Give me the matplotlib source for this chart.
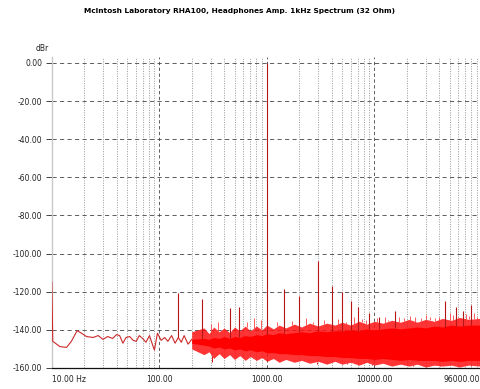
import numpy as np
import matplotlib.pyplot as plt
from matplotlib.ticker import FixedLocator, NullFormatter

# traza de baja frecuencia (Hz, dBr)
low_f = [10.0, 10.2, 11.9, 13.7, 15.2, 17.2, 18.9, 21.0, 24.2, 27.0, 29.9, 33.0, 36.8,
         40.0, 42.7, 45.8, 49.0, 53.0, 57.0, 61.0, 65.0, 69.9, 75.0, 81.0, 86.0, 90.0,
         96.0, 104.0, 112.0, 120.0, 130.0, 140.0, 150.0, 160.0, 170.0, 185.0, 200.0]
low_db = [-115.0, -146.0, -148.8, -149.2, -146.0, -140.4, -141.8, -143.5, -144.0, -143.0,
          -145.0, -143.5, -144.5, -142.5, -143.0, -147.0, -144.0, -143.5, -145.5, -146.0,
          -143.0, -144.5, -146.5, -143.0, -147.5, -150.6, -141.8, -145.5, -144.0, -146.0,
          -143.0, -147.0, -144.0, -146.5, -143.0, -147.5, -145.0]

# banda de ruido: nucleo y envolvente exterior
band_f = [200, 260, 290, 320, 360, 400, 450, 500, 560, 630, 700, 800, 900, 1000, 1150,
          1300, 1500, 1800, 2100, 2500, 3000, 3600, 4300, 5000, 6000, 7200, 8500, 10000,
          12000, 14500, 17500, 21000, 25000, 30000, 36000, 43000, 52000, 62000, 75000, 96000]
core_hi = [-145.0, -144.5, -145.0, -144.0, -144.5, -143.5, -144.5, -143.5, -144.0, -143.0,
           -143.5, -142.5, -143.0, -142.0, -142.5, -141.5, -142.0, -141.5, -141.0, -141.5,
           -140.5, -141.0, -140.5, -140.5, -140.0, -140.5, -139.5, -140.0, -139.5, -139.0,
           -139.5, -139.0, -138.5, -139.0, -138.0, -138.5, -137.5, -138.0, -137.5, -137.5]
core_lo = [-147.0, -148.0, -148.5, -149.5, -149.0, -150.0, -149.5, -150.5, -150.0, -151.0,
           -150.5, -151.5, -151.0, -152.0, -152.0, -152.5, -152.5, -153.0, -153.0, -153.5,
           -153.5, -154.0, -154.0, -154.5, -154.5, -155.0, -155.0, -155.5, -155.0, -155.5,
           -156.0, -155.5, -156.0, -156.0, -156.0, -156.5, -156.0, -156.5, -156.0, -156.0]
outer_hi = [-141.0, -139.0, -142.0, -138.5, -141.0, -139.0, -141.5, -138.5, -140.5, -138.0,
            -140.5, -138.0, -140.0, -137.5, -139.5, -137.5, -139.0, -137.0, -138.5, -136.5,
            -138.0, -136.5, -137.5, -136.0, -137.5, -135.5, -137.0, -135.5, -136.5, -135.0,
            -136.0, -134.5, -136.0, -134.5, -135.5, -134.0, -135.0, -133.5, -134.5, -134.0]
outer_lo = [-150.0, -153.0, -151.5, -155.0, -152.5, -155.0, -153.0, -155.5, -153.5, -156.0,
            -154.0, -156.0, -154.5, -156.5, -155.0, -157.0, -155.5, -157.0, -156.0, -157.5,
            -156.5, -158.0, -156.5, -158.0, -157.0, -158.5, -157.0, -158.5, -157.5, -159.0,
            -158.0, -159.0, -158.0, -159.5, -158.5, -159.0, -158.5, -159.5, -158.5, -159.0]

# armonicos y espurias principales
peak_f = [150, 250, 450, 550, 1000, 1450, 2000, 3000, 4000, 5000, 6000, 7000, 9000,
          11000, 15700, 45000, 57000, 67000, 80000]
peak_db = [-120.5, -124.0, -128.5, -128.0, 0.0, -118.6, -122.0, -104.0, -117.0, -120.0,
           -125.0, -128.0, -131.0, -133.0, -130.0, -125.0, -128.0, -130.0, -127.0]

# espurias menores
spur_f = [300, 350, 650, 760, 880, 1250, 1700, 2300, 2700, 3400, 4600, 5500, 6500, 7600,
          8300, 10500, 12500, 13500, 17000, 19000, 21500, 24000, 27000, 30000, 33000,
          37000, 40000, 50000, 54000, 60000, 63000, 71000, 76000, 85000, 90000]
spur_db = [-137.0, -136.0, -136.0, -134.0, -135.0, -136.0, -135.5, -134.0, -136.0, -135.0,
           -134.5, -136.0, -133.5, -134.5, -135.0, -134.0, -133.5, -135.0, -133.0, -134.0,
           -132.5, -133.5, -134.0, -132.0, -133.5, -134.0, -133.0, -131.0, -132.0, -133.0,
           -134.0, -131.5, -132.5, -131.0, -133.0]

# picos hacia abajo del ruido
dip_f = [310, 2950, 5600, 9500, 23000, 41000, 60000, 80000]
dip_db = [-157.0, -158.0, -158.0, -158.5, -159.0, -158.5, -159.5, -159.0]

x_ticks = [10, 100, 1000, 10000, 96000]
x_labels = ['10.00 Hz', '100.00', '1000.00', '10000.00', '96000.00']
y_ticks = [0, -20, -40, -60, -80, -100, -120, -140, -160]

fig = plt.figure(figsize=(4.8, 3.89), dpi=100)
ax = fig.add_axes([0.108, 0.054, 0.892, 0.799])

rojo = '#ff0000'
oscuro = '#b51515'

ax.fill_between(band_f, outer_lo, outer_hi, color='#ff1010', alpha=0.85, lw=0, zorder=2)
ax.fill_between(band_f, core_lo, core_hi, color=rojo, lw=0, zorder=2)
ax.plot(low_f, low_db, color='#cc2a2a', lw=0.8, zorder=3)

base_spur = np.interp(spur_f, band_f, outer_hi)
ax.vlines(spur_f, base_spur, spur_db, color='#ff4040', lw=0.6, zorder=2)
base_dip = np.interp(dip_f, band_f, outer_lo)
ax.vlines(dip_f, dip_db, base_dip, color='#e01010', lw=0.7, zorder=2)

base_peak = np.interp(peak_f, low_f + band_f, low_db + core_hi)
ax.vlines(peak_f, base_peak, peak_db, color=oscuro, lw=0.8, zorder=4)

ax.set_xscale('log')
ax.set_xlim(10, 96000)
ax.set_ylim(-160, 3)

ax.xaxis.set_major_locator(FixedLocator(x_ticks))
ax.set_xticklabels(x_labels)
minors = [m * 10 ** d for d in range(1, 5) for m in range(2, 10)]
ax.xaxis.set_minor_locator(FixedLocator(minors))
ax.xaxis.set_minor_formatter(NullFormatter())
ax.set_yticks(y_ticks)
ax.set_yticklabels(['%.2f' % v for v in y_ticks])

labs = ax.get_xticklabels()
labs[0].set_ha('left')
labs[-1].set_ha('right')

ax.tick_params(axis='both', labelsize=5.5, colors='#222222')
ax.tick_params(axis='x', length=0, pad=5)
ax.tick_params(axis='y', length=4, width=0.6, pad=3)
ax.tick_params(axis='x', which='minor', length=0)

ax.grid(True, axis='y', color='#444444', ls=(0, (5, 4)), lw=0.6, zorder=1)
ax.grid(True, axis='x', which='major', color='#444444', ls=(0, (4, 3)), lw=0.6, zorder=1)
ax.grid(True, axis='x', which='minor', color='#7a7a7a', ls=(0, (1.5, 2)), lw=0.5, zorder=1)

for s in ['top', 'right']:
    ax.spines[s].set_visible(False)
ax.spines['left'].set_color('#c8c8c8')
ax.spines['left'].set_linewidth(1.0)
ax.spines['bottom'].set_color('#111111')
ax.spines['bottom'].set_linewidth(0.9)

fig.text(0.075, 0.875, 'dBr', fontsize=5.5, color='#222222', ha='left', va='center')
fig.text(0.5, 0.972, 'McIntosh Laboratory RHA100, Headphones Amp. 1kHz Spectrum (32 Ohm)',
         fontsize=5.3, fontweight='bold', ha='center', va='center')

fig.savefig('out.png', dpi=100)
